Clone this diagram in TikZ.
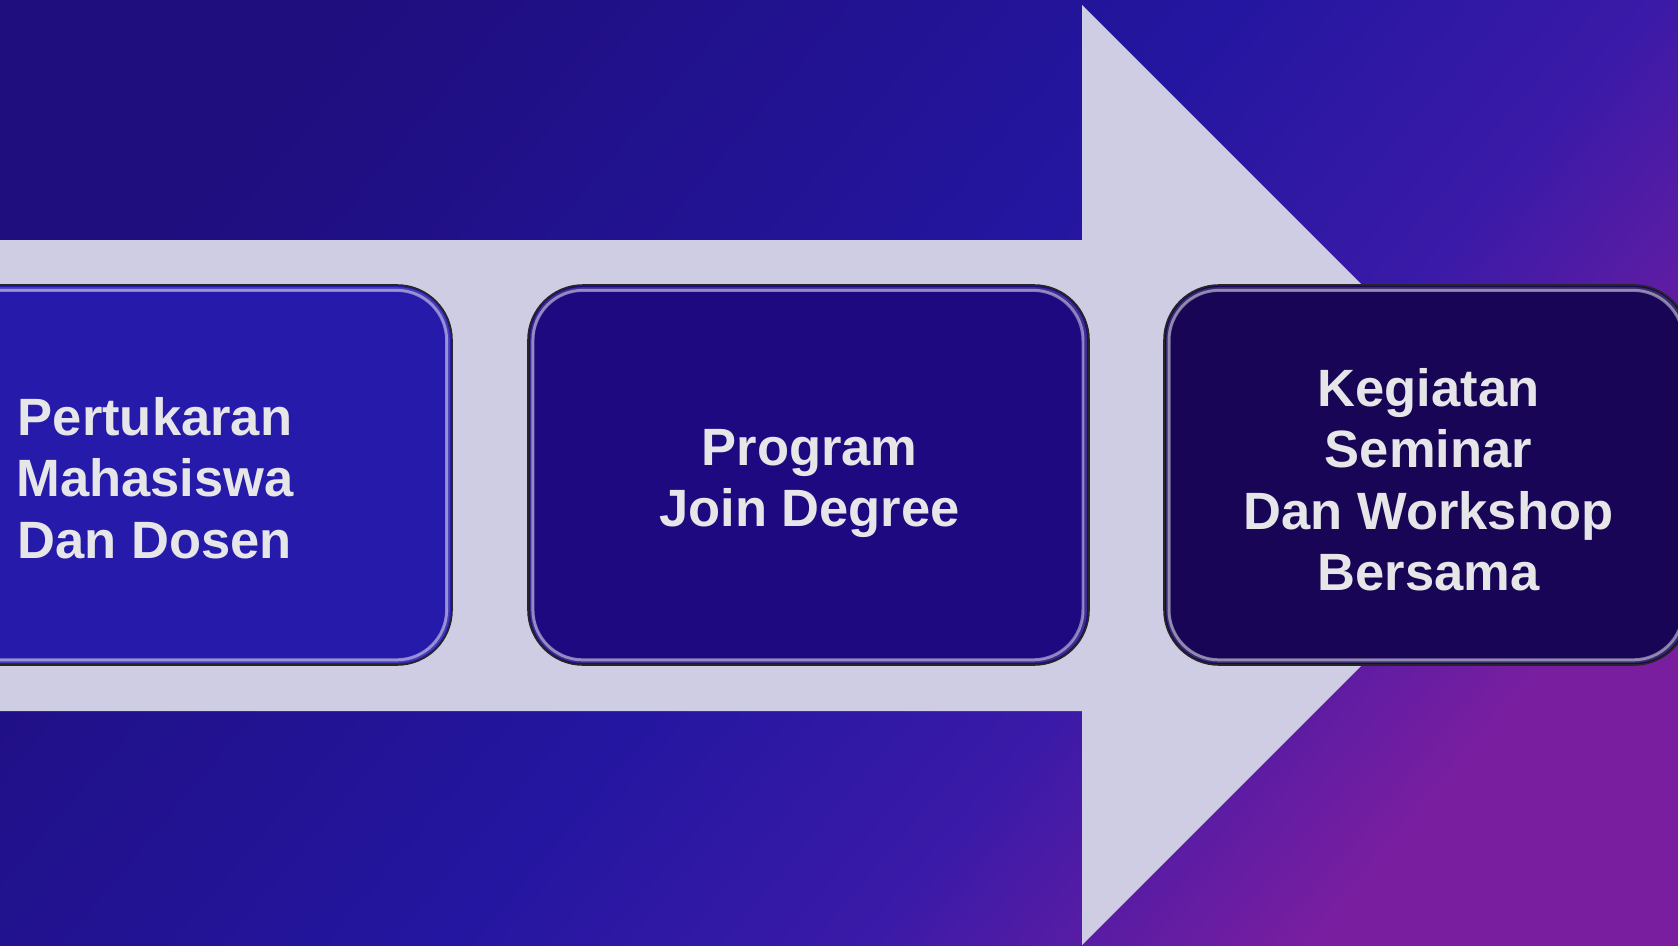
\documentclass[tikz,border=0pt]{standalone}
\usepackage{fontspec}
\setmainfont{Liberation Sans}
\usetikzlibrary{fadings}
\definecolor{bgA}{RGB}{31,14,126}
\definecolor{bgB}{RGB}{36,22,160}
\definecolor{bgC}{RGB}{58,26,168}
\definecolor{bgD}{RGB}{122,30,160}
\definecolor{arrowfill}{RGB}{207,205,227}
\definecolor{boxA}{RGB}{38,26,170}
\definecolor{boxB}{RGB}{30,9,128}
\definecolor{boxC}{RGB}{24,5,86}
\definecolor{labeltext}{RGB}{230,230,232}
\pgfdeclarehorizontalshading{bgshade}{100bp}{color(0bp)=(bgA); color(25bp)=(bgA); color(50bp)=(bgB); color(62bp)=(bgC); color(75bp)=(bgD); color(100bp)=(bgD)}
\tikzfading[name=sideglow, left color=transparent!0, middle color=transparent!100, right color=transparent!0]
\tikzset{
  stepbox/.style={rectangle, rounded corners=55pt, draw=black!85, line width=1.6pt,
    minimum height=380pt, inner sep=0pt},
  steplabel/.style={align=center, text=labeltext, inner sep=0pt,
    font=\bfseries\fontsize{52.5}{61.5}\selectfont},
  glint/.style={draw=white, draw opacity=0.15, line width=4pt, rounded corners=50pt},
  sideglint/.style={draw=white, draw opacity=0.45, line width=3pt, rounded corners=50pt, path fading=sideglow}
}
\begin{document}
\begin{tikzpicture}[x=1pt,y=-1pt]
	\useasboundingbox (0,0) rectangle (1678,945);
	\shade[shading=bgshade, shading angle=-40] (0,0) rectangle (1678,945);

	% arrow behind the boxes
	\coordinate (s0) at (0,240);
	\coordinate (s1) at (1082,240);
	\coordinate (h0) at (1082,5);
	\coordinate (tip) at (1552,475);
	\coordinate (h1) at (1082,945);
	\coordinate (s2) at (1082,711);
	\coordinate (s3) at (0,711);
	\fill[arrowfill] (s0) -- (s1) -- (h0) -- (tip) -- (h1) -- (s2) -- (s3) -- cycle;

	\coordinate (c1) at (155,475);
	\coordinate (c2) at (808.5,475);
	\coordinate (c3) at (1426.5,475);

	\node[stepbox, fill=boxA, minimum width=594pt] (pertukaran) at (c1) {};
	\node[stepbox, fill=boxB, minimum width=561pt] (program) at (c2) {};
	\node[stepbox, fill=boxC, minimum width=525pt] (kegiatan) at (c3) {};

	\foreach \b in {pertukaran,program,kegiatan}{
		\draw[glint] ([shift={(5,5)}]\b.north west) rectangle ([shift={(-5,-5)}]\b.south east);
		\draw[sideglint] ([shift={(6,6)}]\b.north west) rectangle ([shift={(-6,-6)}]\b.south east);
	}

	\node[steplabel] (pertukaran-text) at ([shift={(0,3)}]pertukaran.center) {Pertukaran\\Mahasiswa\\Dan Dosen};
	\node[steplabel] (program-text) at ([shift={(1,8.5)}]program.center) {Program\\Join Degree};
	\node[steplabel] (kegiatan-text) at ([shift={(2,4.5)}]kegiatan.center) {Kegiatan\\Seminar\\Dan Workshop\\Bersama};
\end{tikzpicture}
\end{document}
